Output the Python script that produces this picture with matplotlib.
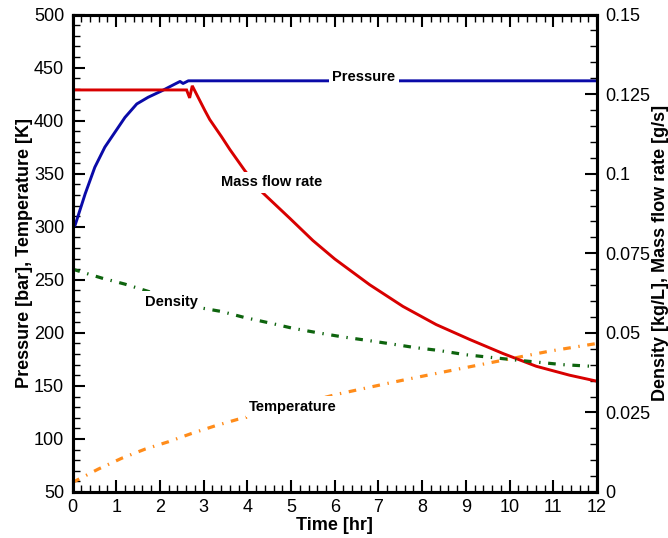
import matplotlib
matplotlib.use("Agg")
import matplotlib.pyplot as plt
from matplotlib.ticker import MultipleLocator, FixedLocator

plt.rcParams['font.family'] = ['Liberation Sans', 'DejaVu Sans']
plt.rcParams['lines.scale_dashes'] = False

# ---- data ----
t_pressure = [0, 0.06, 0.29, 0.51, 0.74, 0.97, 1.2, 1.47, 1.73, 2.04, 2.34, 2.46, 2.53, 2.65, 12]
pressure = [299, 301.5, 331, 356, 375, 389, 403, 415.7, 422, 428, 434.4, 436.9, 435, 437.5, 437.5]

t_mass = [0, 2.61, 2.68, 2.74, 3.03, 3.14, 3.41, 3.6, 3.94, 4.29, 4.97, 5.5, 6.0, 6.8, 7.56, 8.32,
          9.09, 9.85, 10.61, 11.37, 12]
mass_flow = [0.1263, 0.1263, 0.1238, 0.1276, 0.1198, 0.1170, 0.1116, 0.1076, 0.1010, 0.0948, 0.0860,
             0.0790, 0.0732, 0.0651, 0.0583, 0.0526, 0.0479, 0.0435, 0.0395, 0.0367, 0.0348]

t_density = [0, 0.67, 1.2, 2.95, 3.41, 3.94, 4.51, 5.05, 5.62, 6.19, 6.76, 7.3, 7.87, 8.36, 9.01, 10.11, 11.22, 12]
density = [0.0700, 0.0672, 0.0653, 0.0578, 0.0567, 0.0548, 0.0531, 0.0514, 0.0500, 0.0487, 0.0476,
           0.0465, 0.0453, 0.0445, 0.0431, 0.0415, 0.0400, 0.0394]

t_temp = [0, 0.59, 1.12, 1.66, 2.19, 2.72, 3.26, 3.79, 4.29, 6.04, 6.57, 7.1, 7.64, 8.21, 8.78, 9.85, 10.91, 12]
temperature = [59, 71.6, 81.7, 90.4, 97.3, 105.1, 112.3, 118.6, 123.3, 142, 146.7, 151.4, 156.1,
               160.8, 165.5, 174.2, 182.7, 190]

x_ticks = list(range(0, 13))
left_ticks = [50, 100, 150, 200, 250, 300, 350, 400, 450, 500]
right_ticks = [0, 0.025, 0.05, 0.075, 0.1, 0.125, 0.15]
right_labels = ['0', '0.025', '0.05', '0.075', '0.1', '0.125', '0.15']

# ---- figure ----
fig = plt.figure(figsize=(6.68, 5.38), dpi=100)
ax = fig.add_axes([72.5 / 668, 1 - 492 / 538, (597 - 72.5) / 668, (492 - 14.5) / 538])
ax2 = ax.twinx()

blue = '#0a0aa8'
red = '#d80000'
green = '#0e640e'
orange = '#ff8c1a'
dashdot = (0, (5.5, 5.5, 1.0, 5.5))

ax.plot(t_pressure, pressure, color=blue, lw=2.1, solid_capstyle='butt')
ax.plot(t_temp, temperature, color=orange, lw=2.3, linestyle=dashdot)
ax2.plot(t_mass, mass_flow, color=red, lw=2.1, solid_joinstyle='miter')
ax2.plot(t_density, density, color=green, lw=2.3, linestyle=dashdot)

ax.set_xlim(0, 12)
ax.set_ylim(50, 500)
ax2.set_ylim(0, 0.15)

ax.xaxis.set_major_locator(FixedLocator(x_ticks))
ax.xaxis.set_minor_locator(MultipleLocator(0.2))
ax.yaxis.set_major_locator(FixedLocator(left_ticks))
ax.yaxis.set_minor_locator(MultipleLocator(10))
ax2.yaxis.set_major_locator(FixedLocator(right_ticks))
ax2.set_yticklabels(right_labels)
ax2.yaxis.set_minor_locator(MultipleLocator(0.005))

for a in (ax, ax2):
    for s in a.spines.values():
        s.set_linewidth(2.2)

ax.tick_params(axis='x', which='both', direction='in', top=True, bottom=True, labelsize=13, pad=5)
ax.tick_params(axis='y', which='both', direction='in', left=True, right=False, labelsize=13, pad=6)
ax2.tick_params(axis='y', which='both', direction='in', left=False, right=True, labelsize=13, pad=6)
ax.tick_params(which='major', length=8.5, width=1.5)
ax.tick_params(which='minor', length=5, width=1.0)
ax2.tick_params(which='major', length=8.5, width=1.5)
ax2.tick_params(which='minor', length=5, width=1.0)

ax.set_xlabel('Time [hr]', fontsize=13, fontweight='bold', labelpad=1)
ax.set_ylabel('Pressure [bar], Temperature [K]', fontsize=13, fontweight='bold', labelpad=0.5)
ax2.set_ylabel('Density [kg/L], Mass flow rate [g/s]', fontsize=13, fontweight='bold', labelpad=1)

box = dict(boxstyle='square,pad=0.25', facecolor='white', edgecolor='none')
lab = dict(fontsize=10.5, fontweight='bold', ha='center', va='center', bbox=box,
           transform=ax.transData, zorder=10)
ax2.text(6.67, 441, 'Pressure', **lab)
ax2.text(4.55, 342, 'Mass flow rate', **lab)
ax2.text(2.27, 229.5, 'Density', **lab)
ax2.text(5.05, 130.5, 'Temperature', **lab)

fig.savefig('out.png', dpi=100)
